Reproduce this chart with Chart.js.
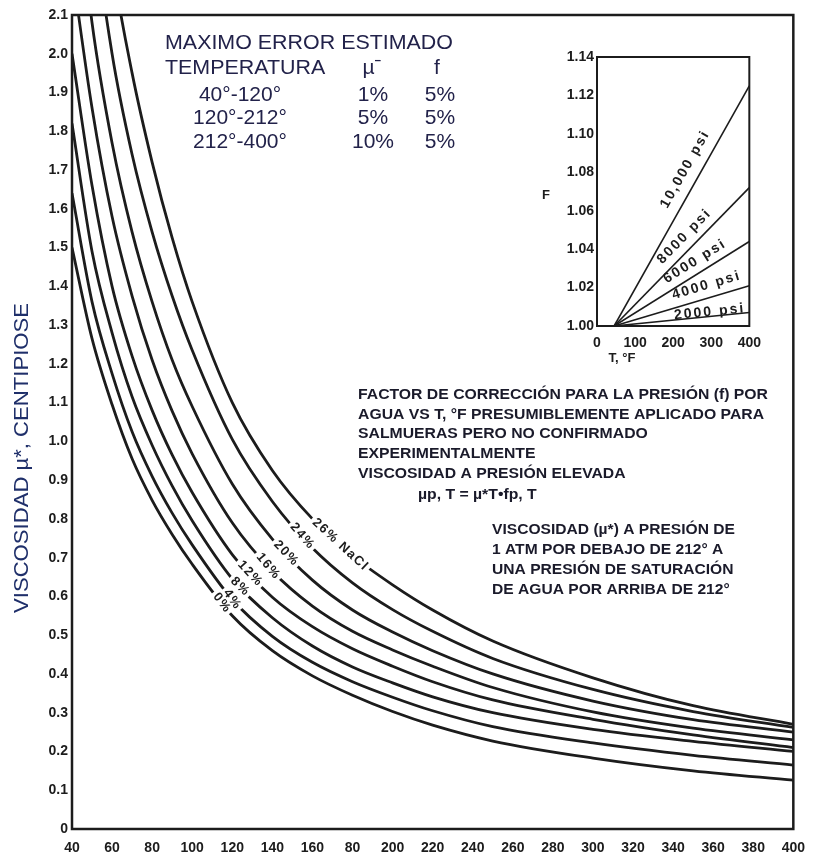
<!DOCTYPE html>
<html>
<head>
<meta charset="utf-8">
<script src="https://cdn.jsdelivr.net/npm/chart.js@4.4.1/dist/chart.umd.min.js"></script>
<style>
  html, body { margin: 0; padding: 0; background: #fff; }
  #wrap { position: relative; width: 816px; height: 859px; overflow: hidden; }
  #main { position: absolute; left: 0; top: 0; }
  #inset { position: absolute; left: 540px; top: 40px; }
</style>
</head>
<body>
<div id="wrap">
  <canvas id="main" width="816" height="859"></canvas>
  <canvas id="inset" width="230" height="330"></canvas>
</div>
<script>
const temps = [40, 50, 60, 70, 80, 90, 100, 120, 140, 160, 180, 200, 220, 250, 300, 350, 400];
const brineLabels = ['0%', '4%', '8%', '12%', '16%', '20%', '24%', '26% NaCl'];

// viscosity, centipoise, one array per NaCl concentration
const visc0  = [1.50, 1.265, 1.095, 0.955, 0.848, 0.76, 0.683, 0.55, 0.46, 0.395, 0.345, 0.303, 0.268, 0.227, 0.183, 0.150, 0.126];
const visc4  = [1.64, 1.36, 1.175, 1.025, 0.91, 0.815, 0.733, 0.592, 0.497, 0.43, 0.38, 0.34, 0.305, 0.264, 0.222, 0.19, 0.165];
const visc8  = [1.82, 1.49, 1.28, 1.115, 0.99, 0.885, 0.795, 0.645, 0.545, 0.472, 0.418, 0.377, 0.341, 0.30, 0.257, 0.226, 0.20];
const visc12 = [2.00, 1.66, 1.40, 1.22, 1.08, 0.965, 0.868, 0.708, 0.598, 0.522, 0.465, 0.42, 0.38, 0.333, 0.283, 0.243, 0.21];
const visc16 = [2.22, 1.86, 1.58, 1.375, 1.21, 1.078, 0.968, 0.79, 0.665, 0.575, 0.51, 0.462, 0.42, 0.365, 0.302, 0.26, 0.23];
const visc20 = [2.55, 2.08, 1.77, 1.54, 1.36, 1.21, 1.09, 0.89, 0.748, 0.642, 0.565, 0.508, 0.46, 0.40, 0.33, 0.282, 0.25];
const visc24 = [3.00, 2.38, 2.00, 1.74, 1.54, 1.375, 1.235, 1.005, 0.845, 0.725, 0.635, 0.566, 0.51, 0.44, 0.36, 0.303, 0.262];
const visc26 = [3.30, 2.68, 2.24, 1.95, 1.72, 1.525, 1.36, 1.10, 0.925, 0.80, 0.705, 0.63, 0.565, 0.485, 0.39, 0.318, 0.27];
const brineSeries = [visc0, visc4, visc8, visc12, visc16, visc20, visc24, visc26];

// x tick labels as printed (the 180 tick reads "80" in the original)
const xTickText = ['40', '60', '80', '100', '120', '140', '160', '80', '200', '220', '240', '260', '280', '300', '320', '340', '360', '380', '400'];

// error table
const errorRanges = ['40°-120°', '120°-212°', '212°-400°'];
const errorMu = ['1%', '5%', '10%'];
const errorF = ['5%', '5%', '5%'];

// inset: pressure correction factor f vs T
const insetT = [45, 400];
const insetLabels = ['10,000 psi', '8000 psi', '6000 psi', '4000 psi', '2000 psi'];
const f10000 = [1.0, 1.125];
const f8000 = [1.0, 1.072];
const f6000 = [1.0, 1.044];
const f4000 = [1.0, 1.021];
const f2000 = [1.0, 1.007];
const insetSeries = [f10000, f8000, f6000, f4000, f2000];

const FONT = '"Liberation Sans", Arial, Helvetica, sans-serif';
const INK = '#1c1c1c';

function valueAt(xs, ys, t) {
  let k = xs.findIndex(v => v >= t);
  if (k < 1) k = 1;
  const f = (t - xs[k - 1]) / (xs[k] - xs[k - 1]);
  return { v: ys[k - 1] + f * (ys[k] - ys[k - 1]), k: k };
}

function fitLines(ctx, lines, x0, refWidth) {
  const s = refWidth / ctx.measureText(lines[0][0]).width;
  for (const [txt, y, dx] of lines) {
    ctx.save();
    ctx.translate(x0 + (dx || 0), y);
    ctx.scale(s, 1);
    ctx.fillText(txt, 0, 0);
    ctx.restore();
  }
}

const curveLabelT = [115, 120, 124, 129, 138, 147, 155, 174];

const mainDecor = {
  id: 'mainDecor',
  afterDatasetsDraw(chart) {
    const { ctx, chartArea: a, scales: { x, y } } = chart;

    // labels written along the curves, with a small gap cut in the line
    ctx.save();
    ctx.font = 'bold 13px ' + FONT;
    ctx.letterSpacing = '1.5px';
    ctx.textAlign = 'center';
    ctx.textBaseline = 'middle';
    brineLabels.forEach((lab, i) => {
      const vals = brineSeries[i];
      const t = curveLabelT[i];
      const r = valueAt(temps, vals, t);
      const px = x.getPixelForValue(t), py = y.getPixelForValue(r.v);
      const ang = Math.atan2(y.getPixelForValue(vals[r.k]) - y.getPixelForValue(vals[r.k - 1]),
                             x.getPixelForValue(temps[r.k]) - x.getPixelForValue(temps[r.k - 1]));
      const w = ctx.measureText(lab).width;
      ctx.save();
      ctx.translate(px, py);
      ctx.rotate(ang);
      ctx.fillStyle = '#fff';
      ctx.fillRect(-w / 2 - 3, -5, w + 5, 10);
      ctx.fillStyle = INK;
      ctx.fillText(lab, 0, 0);
      ctx.restore();
    });
    ctx.restore();

    // frame
    ctx.save();
    ctx.strokeStyle = INK;
    ctx.lineWidth = 2.5;
    ctx.strokeRect(a.left, a.top, a.right - a.left, a.bottom - a.top);
    ctx.restore();

    // y axis title
    ctx.save();
    ctx.font = '21px ' + FONT;
    ctx.fillStyle = '#1f2f6a';
    ctx.textBaseline = 'middle';
    ctx.translate(22, 613);
    ctx.rotate(-Math.PI / 2);
    fitLines(ctx, [['VISCOSIDAD µ*, CENTIPIOSE', 0]], 0, 310);
    ctx.restore();

    // error table
    ctx.save();
    ctx.font = '21px ' + FONT;
    ctx.fillStyle = '#22224a';
    ctx.textBaseline = 'middle';
    fitLines(ctx, [['MAXIMO ERROR ESTIMADO', 43], ['TEMPERATURA', 68]], 165, 288);
    ctx.textAlign = 'center';
    ctx.fillText('µˉ', 372, 68);
    ctx.fillText('f', 437, 68);
    const rowY = [95, 118, 142];
    errorRanges.forEach((r, i) => {
      ctx.fillText(r, 240, rowY[i]);
      ctx.fillText(errorMu[i], 373, rowY[i]);
      ctx.fillText(errorF[i], 440, rowY[i]);
    });
    ctx.restore();

    // notes
    ctx.save();
    ctx.font = 'bold 14px ' + FONT;
    ctx.fillStyle = '#1a1a2a';
    ctx.textBaseline = 'middle';
    fitLines(ctx, [
      ['FACTOR DE CORRECCIÓN PARA LA PRESIÓN (f) POR', 395],
      ['AGUA VS T, °F PRESUMIBLEMENTE APLICADO PARA', 415],
      ['SALMUERAS PERO NO CONFIRMADO', 434],
      ['EXPERIMENTALMENTE', 454],
      ['VISCOSIDAD A PRESIÓN ELEVADA', 474],
      ['µp, T = µ*T•fp, T', 495, 60]
    ], 358, 410);
    fitLines(ctx, [
      ['VISCOSIDAD (µ*) A PRESIÓN DE', 530],
      ['1 ATM POR DEBAJO DE 212° A', 550],
      ['UNA PRESIÓN DE SATURACIÓN', 570],
      ['DE AGUA POR ARRIBA DE 212°', 590]
    ], 492, 243);
    ctx.restore();
  }
};

new Chart(document.getElementById('main'), {
  type: 'line',
  data: {
    datasets: brineSeries.map((vals, i) => ({
      label: brineLabels[i],
      data: temps.map((t, j) => ({ x: t, y: vals[j] })),
      borderColor: INK,
      borderWidth: 2.8,
      pointRadius: 0,
      cubicInterpolationMode: 'monotone',
      fill: false
    }))
  },
  options: {
    responsive: false,
    animation: false,
    events: [],
    layout: { padding: { top: 15, right: 19, left: 0, bottom: 0 } },
    plugins: { legend: { display: false }, tooltip: { enabled: false } },
    scales: {
      x: {
        type: 'linear', min: 40, max: 400,
        afterFit(s) { s.height = 30; },
        grid: { display: false, drawTicks: false },
        border: { display: false },
        ticks: {
          stepSize: 20, autoSkip: false, maxRotation: 0, padding: 11, color: INK,
          font: { family: FONT, size: 14, weight: 'bold' },
          callback: v => xTickText[Math.round((v - 40) / 20)]
        }
      },
      y: {
        type: 'linear', min: 0, max: 2.1,
        afterFit(s) { s.width = 72; },
        grid: { display: false, drawTicks: false },
        border: { display: false },
        ticks: {
          stepSize: 0.1, autoSkip: false, padding: 4, color: INK,
          font: { family: FONT, size: 14, weight: 'bold' },
          callback: v => (Math.abs(v) < 1e-9 ? '0' : v.toFixed(1))
        }
      }
    }
  },
  plugins: [mainDecor]
});

// inset chart
const insetLabelT = [266, 253, 274, 297, 297];
const insetLabelOffset = [15, 12.5, 12, 12.5, 4.5];

const insetDecor = {
  id: 'insetDecor',
  afterDatasetsDraw(chart) {
    const { ctx, chartArea: a, scales: { x, y } } = chart;
    ctx.save();
    ctx.strokeStyle = INK;
    ctx.lineWidth = 2;
    ctx.strokeRect(a.left, a.top, a.right - a.left, a.bottom - a.top);

    ctx.fillStyle = INK;
    ctx.font = 'bold 13px ' + FONT;
    ctx.textAlign = 'center';
    ctx.textBaseline = 'middle';
    ctx.fillText('F', 6, 155);
    ctx.fillText('T, °F', 82, 318);

    ctx.font = 'bold 14px ' + FONT;
    ctx.letterSpacing = '2px';
    insetLabels.forEach((lab, i) => {
      const vals = insetSeries[i];
      const t = insetLabelT[i];
      const r = valueAt(insetT, vals, t);
      const px = x.getPixelForValue(t), py = y.getPixelForValue(r.v);
      const ang = Math.atan2(y.getPixelForValue(vals[1]) - y.getPixelForValue(vals[0]),
                             x.getPixelForValue(insetT[1]) - x.getPixelForValue(insetT[0]));
      ctx.save();
      ctx.translate(px, py);
      ctx.rotate(ang);
      ctx.fillText(lab, 0, -insetLabelOffset[i]);
      ctx.restore();
    });
    ctx.restore();
  }
};

new Chart(document.getElementById('inset'), {
  type: 'line',
  data: {
    datasets: insetSeries.map((vals, i) => ({
      label: insetLabels[i],
      data: insetT.map((t, j) => ({ x: t, y: vals[j] })),
      borderColor: INK,
      borderWidth: 1.6,
      pointRadius: 0,
      fill: false
    }))
  },
  options: {
    responsive: false,
    animation: false,
    events: [],
    layout: { padding: { top: 17, right: 11, left: 0, bottom: 0 } },
    plugins: { legend: { display: false }, tooltip: { enabled: false } },
    scales: {
      x: {
        type: 'linear', min: 0, max: 400,
        afterFit(s) { s.height = 44; },
        grid: { display: false, drawTicks: false },
        border: { display: false },
        ticks: {
          stepSize: 100, autoSkip: false, maxRotation: 0, padding: 9, color: INK,
          font: { family: FONT, size: 14, weight: 'bold' }
        }
      },
      y: {
        type: 'linear', min: 1.0, max: 1.14,
        afterFit(s) { s.width = 57; },
        grid: { display: false, drawTicks: false },
        border: { display: false },
        ticks: {
          stepSize: 0.02, autoSkip: false, padding: 3, color: INK,
          font: { family: FONT, size: 14, weight: 'bold' },
          callback: v => v.toFixed(2)
        }
      }
    }
  },
  plugins: [insetDecor]
});
</script>
</body>
</html>
